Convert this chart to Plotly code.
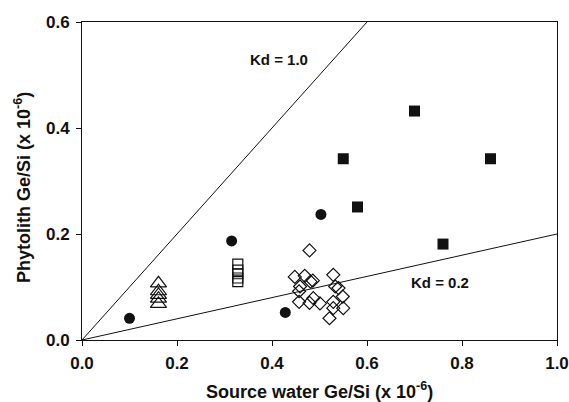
import plotly.graph_objects as go

# Filled circles
circ_x = [0.10, 0.315, 0.428, 0.503]
circ_y = [0.041, 0.187, 0.052, 0.237]
# Filled squares
sq_x = [0.70, 0.55, 0.86, 0.58, 0.76]
sq_y = [0.432, 0.342, 0.342, 0.251, 0.181]
# Open triangles
tri_x = [0.161, 0.161, 0.161, 0.161, 0.161]
tri_y = [0.107, 0.092, 0.085, 0.078, 0.068]
# Open squares
osq_x = [0.328, 0.328, 0.328, 0.328, 0.328]
osq_y = [0.143, 0.132, 0.125, 0.117, 0.110]
# Open diamonds
dia_x = [0.479, 0.448, 0.469, 0.486, 0.481, 0.459, 0.457, 0.529, 0.533, 0.540,
         0.549, 0.457, 0.479, 0.487, 0.501, 0.529, 0.529, 0.550, 0.521]
dia_y = [0.169, 0.119, 0.121, 0.112, 0.110, 0.101, 0.092, 0.123, 0.101, 0.098,
         0.082, 0.072, 0.070, 0.079, 0.069, 0.072, 0.060, 0.060, 0.041]
# Kd lines
kd1_x = [0.0, 0.6]
kd1_y = [0.0, 0.6]
kd02_x = [0.0, 1.0]
kd02_y = [0.0, 0.2]

x_ticks = [0.0, 0.2, 0.4, 0.6, 0.8, 1.0]
x_ticklabels = ["0.0", "0.2", "0.4", "0.6", "0.8", "1.0"]
y_ticks = [0.0, 0.2, 0.4, 0.6]
y_ticklabels = ["0.0", "0.2", "0.4", "0.6"]

BLACK = "#111111"
FAM = "Liberation Sans, Arial, sans-serif"
fig = go.Figure()
fig.add_trace(go.Scatter(x=kd1_x, y=kd1_y, mode="lines", line=dict(color=BLACK, width=1)))
fig.add_trace(go.Scatter(x=kd02_x, y=kd02_y, mode="lines", line=dict(color=BLACK, width=1)))
fig.add_trace(go.Scatter(x=circ_x, y=circ_y, mode="markers",
                         marker=dict(symbol="circle", size=11, color=BLACK, line=dict(width=0))))
fig.add_trace(go.Scatter(x=sq_x, y=sq_y, mode="markers",
                         marker=dict(symbol="square", size=11, color=BLACK, line=dict(width=0))))
fig.add_trace(go.Scatter(x=tri_x, y=tri_y, mode="markers",
                         marker=dict(symbol="triangle-up-open", size=14, color=BLACK, line=dict(width=1.2))))
fig.add_trace(go.Scatter(x=osq_x, y=osq_y, mode="markers",
                         marker=dict(symbol="square-open", size=10, color=BLACK, line=dict(width=1.2))))
fig.add_trace(go.Scatter(x=dia_x, y=dia_y, mode="markers",
                         marker=dict(symbol="diamond-open", size=10, color=BLACK, line=dict(width=1.2))))

ann_font = dict(family=FAM, size=15, color=BLACK)
fig.add_annotation(x=0.415, y=0.530, xref="x", yref="y", text="<b>Kd = 1.0</b>",
                   showarrow=False, font=ann_font)
fig.add_annotation(x=0.754, y=0.108, xref="x", yref="y", text="<b>Kd = 0.2</b>",
                   showarrow=False, font=ann_font)

title_font = dict(family=FAM, size=18, color=BLACK)
fig.add_annotation(x=0.5, y=0, xref="paper", yref="paper", yanchor="middle",
                   yshift=-50, text="<b>Source water Ge/Si (x 10<sup>-6</sup>)</b>",
                   showarrow=False, font=title_font)
fig.add_annotation(x=0, y=0.5, xref="paper", yref="paper", xanchor="center",
                   xshift=-60, yshift=-7, textangle=-90,
                   text="<b>Phytolith Ge/Si (x 10<sup>-6</sup>)</b>",
                   showarrow=False, font=title_font)

axis_common = dict(showgrid=False, zeroline=False, showline=True, linecolor=BLACK, linewidth=1,
                   mirror=True, ticks="outside", ticklen=5, tickcolor=BLACK, automargin=False,
                   tickfont=dict(family=FAM, size=17, color=BLACK))
fig.update_xaxes(range=[0, 1.0], tickvals=x_ticks, ticklabelstandoff=3,
                 ticktext=["<b>%s</b>" % t for t in x_ticklabels], **axis_common)
fig.update_yaxes(range=[0, 0.6], tickvals=y_ticks, ticklabelstandoff=3,
                 ticktext=["<b>%s</b>" % t for t in y_ticklabels], **axis_common)
fig.update_layout(width=569, height=402, showlegend=False,
                  margin=dict(l=82, r=12, t=22, b=62),
                  plot_bgcolor="white", paper_bgcolor="white")
fig.update_traces(cliponaxis=False)
fig.write_html("out.html", config={"displayModeBar": False},
               post_script="document.body.style.margin='0';document.body.style.overflow='hidden';")
